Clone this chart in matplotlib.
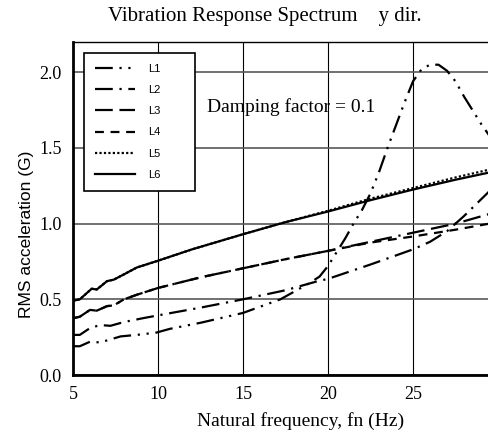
import matplotlib
matplotlib.use("Agg")
import matplotlib.pyplot as plt

# series
x_l1 = [5, 5.4, 6.0, 6.6, 7.8, 8.75, 9.9, 10.7, 12.5, 15, 17.2, 18.8, 19.5, 20, 20.5, 21, 21.5,
        22, 22.5, 23, 23.5, 24, 24.5, 25, 25.5, 26, 26.5, 27, 27.5, 28, 28.5, 29, 29.5, 30]
y_l1 = [0.19, 0.19, 0.22, 0.215, 0.255, 0.265, 0.28, 0.305, 0.345, 0.41, 0.50, 0.60, 0.65, 0.72, 0.81,
        0.90, 1.0, 1.09, 1.2, 1.34, 1.5, 1.65, 1.8, 1.94, 2.02, 2.05, 2.05, 2.01, 1.94, 1.84, 1.75,
        1.66, 1.58, 1.5]

x_l2 = [5, 5.4, 6.0, 6.6, 7.2, 8.0, 9.1, 10.3, 12.5, 15, 17.5, 19.4, 20, 22.5, 25, 26, 27, 28, 29, 30]
y_l2 = [0.265, 0.265, 0.31, 0.33, 0.325, 0.35, 0.375, 0.40, 0.445, 0.50, 0.56, 0.62, 0.635, 0.73,
        0.83, 0.88, 0.95, 1.05, 1.16, 1.27]

x_mid = [5, 5.4, 6.0, 6.4, 7.0, 7.4, 8.0, 8.75, 10, 12.5, 15, 17.5, 20, 22.5, 25, 27.5, 30]
y_l3 = [0.375, 0.385, 0.43, 0.425, 0.455, 0.46, 0.50, 0.53, 0.575, 0.645, 0.705, 0.765, 0.82,
        0.88, 0.94, 1.0, 1.08]
y_l4 = [0.375, 0.385, 0.43, 0.425, 0.455, 0.46, 0.50, 0.53, 0.575, 0.645, 0.705, 0.765, 0.82,
        0.875, 0.915, 0.96, 1.01]

x_top = [5, 5.4, 5.8, 6.1, 6.4, 7.0, 7.4, 8.0, 8.75, 10, 12, 15, 17.5, 20, 22.5, 25, 27.5, 30]
y_l5 = [0.49, 0.50, 0.54, 0.57, 0.565, 0.62, 0.63, 0.665, 0.71, 0.755, 0.83, 0.93, 1.01, 1.085,
        1.165, 1.235, 1.305, 1.37]
y_l6 = [0.49, 0.50, 0.54, 0.57, 0.565, 0.62, 0.63, 0.665, 0.71, 0.755, 0.83, 0.93, 1.01, 1.08,
        1.155, 1.225, 1.29, 1.35]

labels = ["L1", "L2", "L3", "L4", "L5", "L6"]
xticks = [5, 10, 15, 20, 25]
yticks = [0.0, 0.5, 1.0, 1.5, 2.0]

serif = "Liberation Serif"
sans = "Liberation Sans"

fig = plt.figure(figsize=(4.88, 4.41), dpi=100)
ax = fig.add_axes([73 / 488, 66 / 441, 425 / 488, 333 / 441])

lw = 1.6
ax.plot(x_l1, y_l1, color="black", lw=lw, ls=(0, (8, 3, 1, 3, 1, 3)), label=labels[0])
ax.plot(x_l2, y_l2, color="black", lw=lw, ls=(0, (8, 3, 1, 3)), label=labels[1])
ax.plot(x_mid, y_l3, color="black", lw=lw, ls=(0, (8, 3, 8, 3, 1, 3)), label=labels[2])
ax.plot(x_mid, y_l4, color="black", lw=lw, ls=(0, (4, 3)), label=labels[3])
ax.plot(x_top, y_l5, color="black", lw=lw, ls=(0, (1, 1)), label=labels[4])
ax.plot(x_top, y_l6, color="black", lw=lw, ls="-", label=labels[5])

ax.set_xlim(5, 30)
ax.set_ylim(0, 2.2)
ax.set_xticks(xticks)
ax.set_yticks(yticks)
ax.set_xticklabels([str(v) for v in xticks], fontfamily=serif, fontsize=13)
ax.set_yticklabels(["%.1f" % v for v in yticks], fontfamily=serif, fontsize=13)
ax.tick_params(length=0, pad=8)

ax.grid(axis="x", color="black", lw=0.8)
ax.grid(axis="y", color="0.35", lw=1.2)
ax.set_axisbelow(True)

ax.spines["left"].set_linewidth(2)
ax.spines["bottom"].set_linewidth(2)
ax.spines["top"].set_linewidth(1)

ax.text(12.9, 1.77, "Damping factor = 0.1", fontfamily=serif, fontsize=14, va="center")

leg = ax.legend(loc="upper left", bbox_to_anchor=(0.026, 0.4, 111 / 425, 0.567), mode="expand",
                borderaxespad=0, prop={"family": sans, "size": 8}, handlelength=3.6,
                handletextpad=1.2, labelspacing=1.0, borderpad=1.0, fancybox=False,
                framealpha=1, edgecolor="black")
leg.get_frame().set_linewidth(1.2)

fig.text(265 / 488, 1 - 16 / 441, "Vibration Response Spectrum    y dir.",
         fontfamily=serif, fontsize=15, ha="center", va="center")
fig.text(301 / 488, 1 - 421 / 441, "Natural frequency, fn (Hz)",
         fontfamily=serif, fontsize=14, ha="center", va="center")
fig.text(27 / 488, 1 - 234 / 441, "RMS acceleration (G)",
         fontfamily=sans, fontsize=12.5, ha="center", va="center", rotation=90)

fig.savefig("out.png", dpi=100)
